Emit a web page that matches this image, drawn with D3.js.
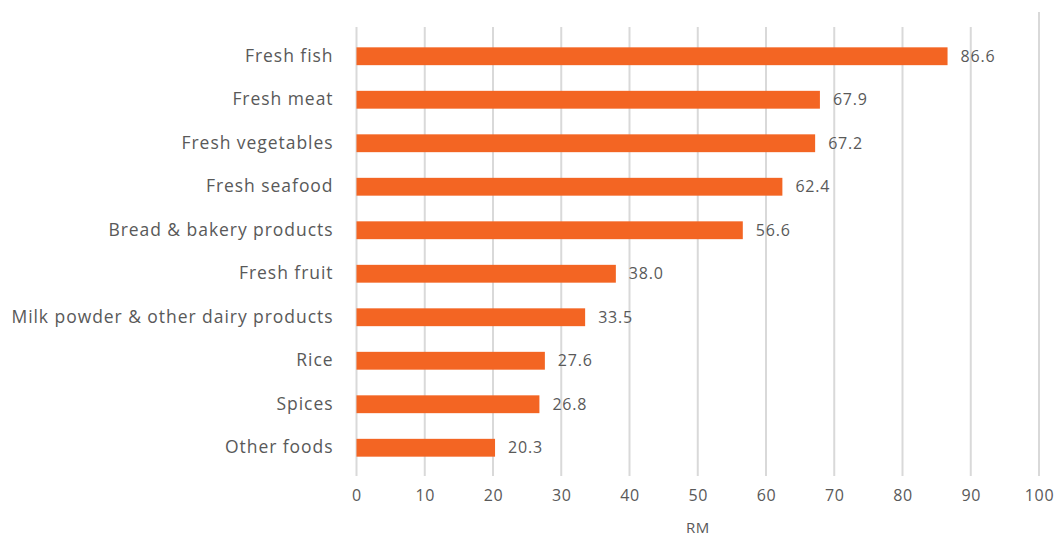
<!DOCTYPE html>
<html>
<head>
<meta charset="utf-8">
<script src="https://cdn.jsdelivr.net/npm/d3@7"></script>
<style>
  body { margin: 0; background: #fff; }
  svg { display: block; font-family: "Open Sans", sans-serif; }
</style>
</head>
<body>
<svg id="chart"></svg>
<script>
const categories = ["Fresh fish", "Fresh meat", "Fresh vegetables", "Fresh seafood",
  "Bread & bakery products", "Fresh fruit", "Milk powder & other dairy products",
  "Rice", "Spices", "Other foods"]
const values = [86.6, 67.9, 67.2, 62.4, 56.6, 38.0, 33.5, 27.6, 26.8, 20.3]
const xTicks = [0, 10, 20, 30, 40, 50, 60, 70, 80, 90, 100]
const xLabel = "RM"

const width = 1057
const height = 538
const margin = {left: 356.5, right: 18, top: 34.5, bottom: 68.5}

const svg = d3.select("#chart")
  .attr("width", width)
  .attr("height", height)

const x = d3.scaleLinear()
  .domain([0, 100])
  .range([margin.left, width - margin.right])

const y = d3.scaleBand()
  .domain(categories)
  .range([margin.top, height - margin.bottom])
  .paddingInner(0.59)
  .paddingOuter(0.295)

// grid lines
svg.append("g")
  .selectAll("line")
  .data(xTicks)
  .enter()
  .append("line")
  .attr("x1", d => x(d))
  .attr("x2", d => x(d))
  .attr("y1", d => d === 100 ? 12 : 27)
  .attr("y2", 476)
  .attr("stroke", "#d9d9d9")
  .attr("stroke-width", 2)

// bars
const data = categories.map((c, i) => ({cat: c, val: values[i]}))

svg.append("g")
  .selectAll("rect")
  .data(data)
  .enter()
  .append("rect")
  .attr("x", x(0))
  .attr("y", d => y(d.cat))
  .attr("width", d => x(d.val) - x(0))
  .attr("height", y.bandwidth())
  .attr("fill", "#f36523")

// value labels
svg.append("g")
  .selectAll("text")
  .data(data)
  .enter()
  .append("text")
  .attr("x", d => x(d.val) + 13)
  .attr("y", d => y(d.cat) + y.bandwidth() / 2)
  .attr("dy", "0.35em")
  .attr("font-size", 16)
  .attr("letter-spacing", "0.8px")
  .attr("fill", "#595959")
  .text(d => d.val.toFixed(1))

// category axis
const yAxis = svg.append("g")
  .attr("transform", `translate(${margin.left},0)`)
  .call(d3.axisLeft(y).tickSize(0).tickPadding(23))
yAxis.select(".domain").remove()
yAxis.selectAll("text")
  .attr("font-size", 17.5)
  .attr("font-family", "'Open Sans', sans-serif")
  .attr("letter-spacing", "0.95px")
  .attr("fill", "#595959")
  .attr("dy", "0.3em")

// value axis
const xAxis = svg.append("g")
  .attr("transform", "translate(0,476)")
  .call(d3.axisBottom(x).tickValues(xTicks).tickSize(0).tickPadding(14))
xAxis.select(".domain").remove()
xAxis.selectAll("text")
  .attr("font-size", 16)
  .attr("font-family", "'Open Sans', sans-serif")
  .attr("letter-spacing", "0.7px")
  .attr("fill", "#595959")

svg.append("text")
  .attr("x", (x(0) + x(100)) / 2)
  .attr("y", 533)
  .attr("text-anchor", "middle")
  .attr("font-size", 15)
  .attr("letter-spacing", "0.5px")
  .attr("fill", "#595959")
  .text(xLabel)
</script>
</body>
</html>
